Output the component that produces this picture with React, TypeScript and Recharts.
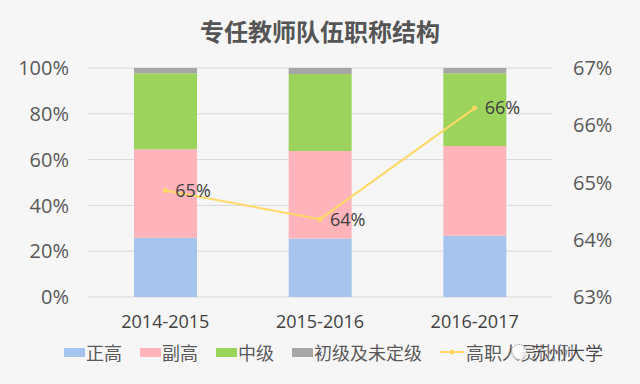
import React from "react";
import {
  ComposedChart,
  Bar,
  Line,
  XAxis,
  YAxis,
  CartesianGrid,
  Legend,
  LabelList,
} from "recharts";

const categories = ["2014-2015", "2015-2016", "2016-2017"];
const zhengGao = [25.9, 25.6, 26.8];
const fuGao = [38.6, 38.2, 39.1];
const zhongJi = [33.2, 33.6, 31.8];
const chuJi = [2.3, 2.6, 2.3];
const gaoZhiRatio = [64.86, 64.36, 66.3];

const leftTicks = [0, 20, 40, 60, 80, 100];
const rightTicks = [63, 64, 65, 66, 67];

const seriesNames = ["正高", "副高", "中级", "初级及未定级", "高职人员比例"];
const colors = ["#A7C4EE", "#FFB3BA", "#9CD35C", "#A6A6A6", "#FFD966"];

const data = categories.map((c, i) => ({
  name: c,
  zg: zhengGao[i],
  fg: fuGao[i],
  zj: zhongJi[i],
  cj: chuJi[i],
  ratio: gaoZhiRatio[i],
}));

const cjk = '"Noto Sans CJK SC", "Noto Sans", sans-serif';
const num = '"Open Sans", "Noto Sans", sans-serif';

const renderLegend = (props: any) => {
  const payload = [...(props.payload || [])].sort(
    (a: any, b: any) => seriesNames.indexOf(a.value) - seriesNames.indexOf(b.value)
  );
  return (
    <div
      style={{
        display: "flex",
        alignItems: "center",
        height: 24,
        paddingLeft: 64,
        fontFamily: cjk,
        fontSize: 18,
        color: "#595959",
      }}
    >
      {payload.map((p: any, i: number) => (
        <div
          key={i}
          style={{ display: "flex", alignItems: "center", marginRight: 18 }}
        >
          {p.type === "line" ? (
            <svg width={24} height={10} style={{ marginRight: 2 }}>
              <line x1={0} y1={5} x2={24} y2={5} stroke={p.color} strokeWidth={2} />
              <circle cx={12} cy={5} r={2.5} fill={p.color} />
            </svg>
          ) : (
            <div
              style={{
                width: 21,
                height: 9,
                background: p.color,
                marginRight: 1,
              }}
            />
          )}
          <span>{p.value}</span>
        </div>
      ))}
    </div>
  );
};

export default function App() {
  return (
    <div
      style={{
        position: "absolute",
        left: 0,
        top: 0,
        width: 640,
        height: 384,
        background: "#f6f6f6",
        overflow: "hidden",
      }}
    >
      <div
        style={{
          position: "absolute",
          left: 0,
          top: 14,
          width: 640,
          height: 34,
          lineHeight: "34px",
          textAlign: "center",
          fontFamily: cjk,
          fontWeight: 700,
          fontSize: 24,
          color: "#555555",
        }}
      >
        专任教师队伍职称结构
      </div>
      <ComposedChart
        width={640}
        height={384}
        data={data}
        margin={{ top: 68, right: 28, bottom: 20, left: 28 }}
      >
        <CartesianGrid
          yAxisId="left"
          vertical={false}
          stroke="#d9d9d9"
          strokeWidth={1}
        />
        <XAxis
          dataKey="name"
          axisLine={false}
          tickLine={false}
          tickSize={0}
          tickMargin={18}
          height={43}
          tick={{ fill: "#404040", fontSize: 18, fontFamily: num }}
        />
        <YAxis
          yAxisId="left"
          orientation="left"
          domain={[0, 100]}
          ticks={leftTicks}
          tickFormatter={(v: number) => `${v}%`}
          axisLine={false}
          tickLine={false}
          tickSize={0}
          tickMargin={19}
          width={60}
          tick={{ fill: "#595959", fontSize: 20, fontFamily: num }}
        />
        <YAxis
          yAxisId="right"
          orientation="right"
          domain={[63, 67]}
          ticks={rightTicks}
          tickFormatter={(v: number) => `${v}%`}
          axisLine={false}
          tickLine={false}
          tickSize={0}
          tickMargin={21}
          width={60}
          tick={{ fill: "#595959", fontSize: 20, fontFamily: num }}
        />
        <Bar yAxisId="left" dataKey="zg" name={seriesNames[0]} stackId="a" fill={colors[0]} barSize={63} isAnimationActive={false} />
        <Bar yAxisId="left" dataKey="fg" name={seriesNames[1]} stackId="a" fill={colors[1]} barSize={63} isAnimationActive={false} />
        <Bar yAxisId="left" dataKey="zj" name={seriesNames[2]} stackId="a" fill={colors[2]} barSize={63} isAnimationActive={false} />
        <Bar yAxisId="left" dataKey="cj" name={seriesNames[3]} stackId="a" fill={colors[3]} barSize={63} isAnimationActive={false} />
        <Line
          yAxisId="right"
          type="linear"
          dataKey="ratio"
          name={seriesNames[4]}
          stroke={colors[4]}
          strokeWidth={2}
          dot={{ r: 2.5, fill: colors[4], stroke: colors[4], strokeWidth: 0 }}
          activeDot={false}
          legendType="line"
          isAnimationActive={false}
        >
          <LabelList
            dataKey="ratio"
            position="right"
            offset={10}
            formatter={(v: any) => `${Math.round(Number(v))}%`}
            style={{ fill: "#404040", fontSize: 18, fontFamily: num }}
          />
        </Line>
        <Legend
          verticalAlign="bottom"
          content={renderLegend}
          wrapperStyle={{ left: 0, top: 340, width: 640, height: 24 }}
        />
      </ComposedChart>
      <div
        style={{
          position: "absolute",
          left: 511,
          top: 340,
          height: 24,
          display: "flex",
          alignItems: "center",
          fontFamily: cjk,
          fontSize: 18,
          color: "#4a4a4a",
          textShadow: "0 0 3px #ffffff, 0 0 3px #ffffff",
        }}
      >
        <div
          style={{
            width: 14,
            height: 14,
            borderRadius: 8,
            border: "1.5px dotted #8a8a8a",
            marginRight: 4,
            background: "rgba(255,255,255,0.8)",
          }}
        />
        <span>苏州大学</span>
      </div>
    </div>
  );
}
